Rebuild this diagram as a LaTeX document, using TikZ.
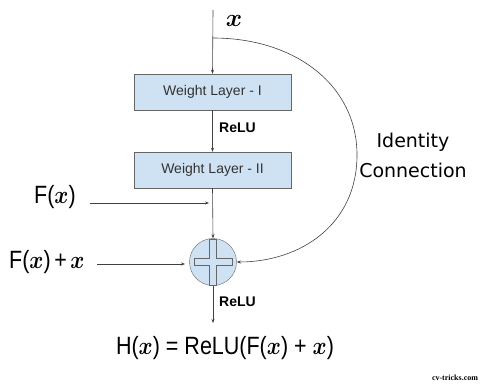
\documentclass[tikz,border=0pt]{standalone}
\usepackage{bm}
\usepackage{graphicx}
\usepackage{fontspec}
\setmainfont{Liberation Sans}
\newfontfamily\comicish{DejaVu Sans}
\newfontfamily\wmfont{Liberation Serif}
\usetikzlibrary{arrows.meta}
\definecolor{boxblue}{HTML}{CFE2F3}
\definecolor{edgegray}{HTML}{666666}
\newcommand{\bx}{\ensuremath{\bm{x}}}
\newcommand{\narrow}[1]{\scalebox{0.86}[1]{#1}}
\begin{document}
\begin{tikzpicture}[x=1pt,y=-1pt,
  layerbox/.style={draw=edgegray,fill=boxblue,minimum width=157pt,minimum height=36pt,inner sep=0pt,font=\fontsize{14}{16}\selectfont,text=black!80},
  conn/.style={draw=black!75,line width=0.6pt,-{Stealth[length=4pt,width=3pt]}},
  relu/.style={font=\bfseries\fontsize{14}{16}\selectfont,anchor=west,inner sep=0pt},
  big/.style={font=\fontsize{25}{28}\selectfont,inner sep=0pt}]
\useasboundingbox (0,0) rectangle (481,383);
\coordinate (top) at (213,10);
\coordinate (split) at (213,38);
\node[layerbox] (b1) at (212.5,92) {Weight Layer - I};
\node[layerbox] (b2) at (212.5,170) {Weight Layer - II};
\node[circle,draw=edgegray,fill=boxblue,minimum size=47pt,inner sep=0pt] (plus) at (213,262) {};
\draw[edgegray,fill=boxblue,line width=0.6pt] (209.5,239) -- (216.5,239) -- (216.5,258.5) -- (232,258.5) -- (232,265.5) -- (216.5,265.5) -- (216.5,285) -- (209.5,285) -- (209.5,265.5) -- (194,265.5) -- (194,258.5) -- (209.5,258.5) -- cycle;
\coordinate (out) at (213,323);
\node[inner sep=0pt,font=\fontsize{26}{28}\selectfont] (xl) at (234,21) {\bx};
\node[relu] (r1) at (219,128) {ReLU};
\node[relu] (r2) at (219,302) {ReLU};
\node[big,anchor=west] (fx) at (34,197) {\narrow{F(\bx)}};
\node[big,anchor=west] (fxx) at (9,262) {\narrow{F(\bx)\,+\,\bx}};
\coordinate (fxs) at (90,203);
\coordinate (fxe) at (209,203);
\coordinate (fxxs) at (97,264);
\coordinate (fxxe) at (185,264);
\node[align=center,font=\comicish\fontsize{19}{30}\selectfont,inner sep=0pt] (idc) at (413,155) {Identity\\Connection};
\node[big] (hx) at (225,348) {\narrow{H(\bx) = ReLU(F(\bx) + \bx)}};
\node[font=\wmfont\bfseries\fontsize{8}{9}\selectfont,inner sep=0pt] (wm) at (455,378) {cv-tricks.com};
\draw[conn] (top) -- (b1.north);
\draw[conn] (b1.south) -- (b2.north);
\draw[conn] (b2.south) -- (plus.north);
\draw[conn] (plus.south) -- (out);
\draw[conn] (fxs) -- (fxe);
\draw[conn] (fxxs) -- (fxxe);
\draw[conn] (split) .. controls (295,38) and (357,85) .. (357,155) .. controls (357,225) and (300,262) .. (plus.east);
\end{tikzpicture}
\end{document}
